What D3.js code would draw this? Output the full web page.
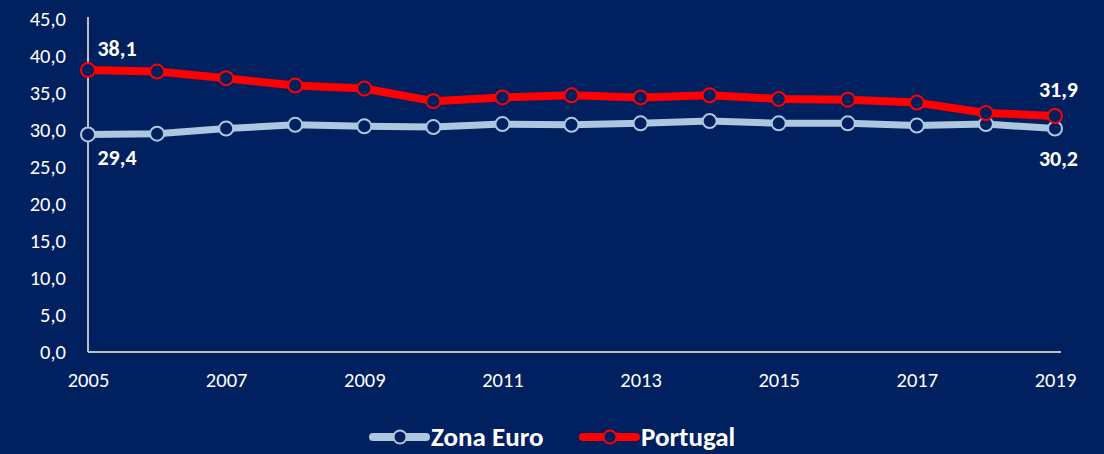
<!DOCTYPE html>
<html>
<head>
<meta charset="utf-8">
<script src="https://cdn.jsdelivr.net/npm/d3@7"></script>
<style>
  html, body { margin: 0; padding: 0; background: #00205F; }
  svg { display: block; font-family: Carlito, Lato, "Open Sans", sans-serif; }
</style>
</head>
<body>
<svg id="chart" width="1104" height="454"></svg>
<script>
var years = [2005, 2006, 2007, 2008, 2009, 2010, 2011, 2012, 2013, 2014, 2015, 2016, 2017, 2018, 2019]
var zonaEuro = [29.4, 29.5, 30.2, 30.7, 30.5, 30.4, 30.8, 30.7, 30.9, 31.2, 30.9, 30.9, 30.6, 30.8, 30.2]
var portugal = [38.1, 37.9, 37.0, 36.0, 35.6, 33.9, 34.4, 34.7, 34.4, 34.7, 34.2, 34.1, 33.7, 32.3, 31.9]
var yTicks = [0, 5, 10, 15, 20, 25, 30, 35, 40, 45]
var xTicks = [2005, 2007, 2009, 2011, 2013, 2015, 2017, 2019]

var seriesList = [
    { name: "Zona Euro", values: zonaEuro, color: "#ADC8DE", width: 7 },
    { name: "Portugal", values: portugal, color: "#FF0000", width: 8 }
]

var svg = d3.select("#chart")
var axisColor = "#BFBFBF"

var x = d3.scaleLinear().domain([2005, 2019]).range([88, 1055])
var y = d3.scaleLinear().domain([0, 45]).range([352, 19])

function fmt(v) {
    return d3.format(".1f")(v).replace(".", ",")
}

// y axis
var yAxis = svg.append("g")
    .attr("transform", "translate(88,0)")
    .call(d3.axisLeft(y).tickValues(yTicks).tickSize(0).tickPadding(22).tickFormat(fmt))
    .attr("font-family", null).attr("font-size", null)
yAxis.select(".domain").attr("stroke", axisColor).attr("stroke-width", 2).attr("d", "M0," + (y(45) - 2) + "V" + y(0))
yAxis.selectAll("text").attr("fill", "#FFFFFF").attr("font-size", 20.5)

// x axis
var xAxis = svg.append("g")
    .attr("transform", "translate(0," + y(0) + ")")
    .call(d3.axisBottom(x).tickValues(xTicks).tickSize(0).tickPadding(20).tickFormat(d3.format("d")))
    .attr("font-family", null).attr("font-size", null)
xAxis.select(".domain").attr("stroke", axisColor).attr("stroke-width", 2).attr("d", "M" + x(2005) + ",0H" + (x(2019) + 6))
xAxis.selectAll("text").attr("fill", "#FFFFFF").attr("font-size", 20.5)

var line = d3.line()
    .x(function (d, i) { return x(years[i]) })
    .y(function (d) { return y(d) })

seriesList.forEach(function (s) {
    svg.append("path")
        .datum(s.values)
        .attr("fill", "none")
        .attr("stroke", s.color)
        .attr("stroke-width", s.width)
        .attr("stroke-linejoin", "round")
        .attr("d", line)

    svg.append("g").selectAll("circle")
        .data(s.values)
        .join("circle")
        .attr("cx", function (d, i) { return x(years[i]) })
        .attr("cy", function (d) { return y(d) })
        .attr("r", 7)
        .attr("fill", "#00205F")
        .attr("stroke", s.color)
        .attr("stroke-width", 2)
})

// data labels at both ends
function dataLabel(v, xv, dy) {
    svg.append("text")
        .attr("x", x(xv))
        .attr("y", y(v) + dy)
        .attr("text-anchor", "middle")
        .attr("fill", "#FFFFFF")
        .attr("font-size", 22)
        .attr("font-weight", "bold")
        .text(fmt(v))
}
dataLabel(portugal[0], 2005 + 0.42, -14)
dataLabel(zonaEuro[0], 2005 + 0.42, 31)
dataLabel(portugal[14], 2019 + 0.05, -19)
dataLabel(zonaEuro[14], 2019 + 0.05, 37)

// legend
var legend = svg.append("g").attr("transform", "translate(370,437)")
var legendX = [0, 210]
seriesList.forEach(function (s, i) {
    var g = legend.append("g").attr("transform", "translate(" + legendX[i] + ",0)")
    g.append("line")
        .attr("x1", 3).attr("x2", 56).attr("y1", 0).attr("y2", 0)
        .attr("stroke", s.color).attr("stroke-width", 8).attr("stroke-linecap", "round")
    g.append("circle")
        .attr("cx", 30).attr("cy", 0).attr("r", 6.5)
        .attr("fill", "#00205F").attr("stroke", s.color).attr("stroke-width", 2)
    g.append("text")
        .attr("x", 61).attr("y", 9)
        .attr("fill", "#FFFFFF")
        .attr("font-size", 27)
        .attr("font-weight", "bold")
        .text(s.name)
})
</script>
</body>
</html>
